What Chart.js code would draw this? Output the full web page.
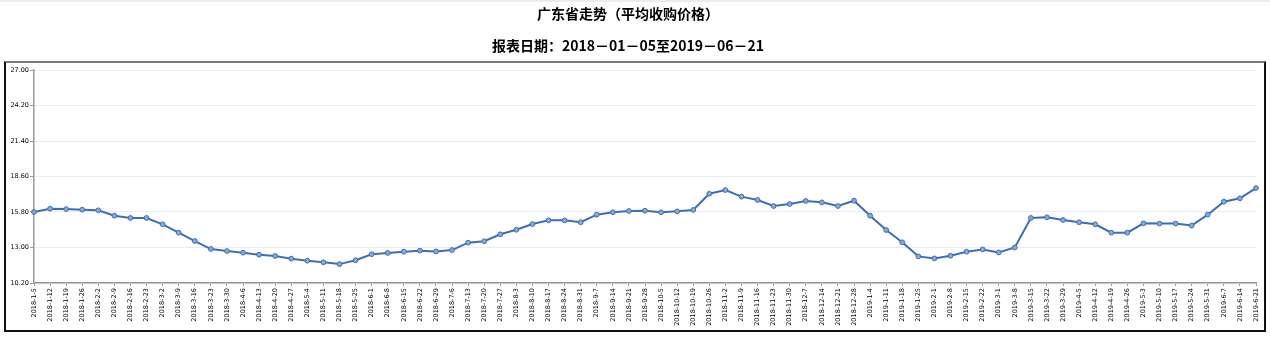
<!DOCTYPE html>
<html>
<head>
<meta charset="utf-8">
<script src="https://cdn.jsdelivr.net/npm/chart.js@4/dist/chart.umd.min.js"></script>
<style>
  html, body { margin: 0; padding: 0; background: #fff; }
  #wrap { position: relative; width: 1270px; height: 337px; overflow: hidden; }
  #topstrip { position: absolute; left: 0; top: 0; width: 1270px; height: 2px; background: #ececec; }
  #frame { position: absolute; left: 4px; top: 61px; width: 1258px; height: 267px;
           border: 2px solid #111; border-top: 2px solid #7a7a7a; }
  canvas { position: absolute; left: 0; top: 0; }
</style>
</head>
<body>
<div id="wrap">
  <div id="topstrip"></div>
  <div id="frame"></div>
  <canvas id="c" width="1270" height="337"></canvas>
</div>
<script>
// Weekly report dates
const weeks = [
  '2018-1-5','2018-1-12','2018-1-19','2018-1-26','2018-2-2','2018-2-9','2018-2-16','2018-2-23',
  '2018-3-2','2018-3-9','2018-3-16','2018-3-23','2018-3-30','2018-4-6','2018-4-13','2018-4-20',
  '2018-4-27','2018-5-4','2018-5-11','2018-5-18','2018-5-25','2018-6-1','2018-6-8','2018-6-15',
  '2018-6-22','2018-6-29','2018-7-6','2018-7-13','2018-7-20','2018-7-27','2018-8-3','2018-8-10',
  '2018-8-17','2018-8-24','2018-8-31','2018-9-7','2018-9-14','2018-9-21','2018-9-28','2018-10-5',
  '2018-10-12','2018-10-19','2018-10-26','2018-11-2','2018-11-9','2018-11-16','2018-11-23','2018-11-30',
  '2018-12-7','2018-12-14','2018-12-21','2018-12-28','2019-1-4','2019-1-11','2019-1-18','2019-1-25',
  '2019-2-1','2019-2-8','2019-2-15','2019-2-22','2019-3-1','2019-3-8','2019-3-15','2019-3-22',
  '2019-3-29','2019-4-5','2019-4-12','2019-4-19','2019-4-26','2019-5-3','2019-5-10','2019-5-17',
  '2019-5-24','2019-5-31','2019-6-7','2019-6-14','2019-6-21'
];

// Average purchase price, Guangdong
const avgPrice = [
  15.80, 16.06, 16.03, 15.98, 15.93, 15.51, 15.33, 15.33,
  14.83, 14.17, 13.51, 12.88, 12.72, 12.59, 12.43, 12.33,
  12.12, 11.96, 11.83, 11.69, 11.99, 12.47, 12.57, 12.67,
  12.75, 12.69, 12.80, 13.38, 13.49, 14.04, 14.40, 14.85,
  15.14, 15.14, 14.99, 15.59, 15.78, 15.88, 15.90, 15.78,
  15.85, 15.96, 17.24, 17.53, 17.01, 16.75, 16.27, 16.43,
  16.67, 16.56, 16.27, 16.69, 15.51, 14.38, 13.41, 12.30,
  12.14, 12.35, 12.67, 12.85, 12.61, 13.00, 15.33, 15.38,
  15.17, 14.99, 14.83, 14.17, 14.17, 14.91, 14.89, 14.89,
  14.73, 15.59, 16.61, 16.88, 17.69
];

const yMin = 10.2;
const yMax = 27.0;
const yStep = 2.8;

const titleText = '广东省走势（平均收购价格）';
const subtitleText = '报表日期：2018－01－05至2019－06－21';

const lineColor = '#3b6fb3';
const pointFill = '#86aad8';
const gridColor = '#e7edf4';
const axisColor = '#9a9a9a';

new Chart(document.getElementById('c'), {
  type: 'line',
  data: {
    labels: weeks,
    datasets: [{
      data: avgPrice,
      borderColor: lineColor,
      borderWidth: 2,
      backgroundColor: pointFill,
      pointBackgroundColor: pointFill,
      pointBorderColor: lineColor,
      pointBorderWidth: 1,
      pointRadius: 2.4,
      tension: 0,
      fill: false
    }]
  },
  options: {
    responsive: false,
    animation: false,
    devicePixelRatio: 1,
    layout: { padding: { left: 0, right: 14, top: 0, bottom: 0 } },
    plugins: {
      legend: { display: false },
      tooltip: { enabled: false },
      title: {
        display: true,
        text: titleText,
        color: '#000',
        font: { family: '"Noto Sans CJK SC", sans-serif', size: 14, weight: 'bold', lineHeight: 1.2 },
        padding: { top: 5.6, bottom: 14.4 }
      },
      subtitle: {
        display: true,
        text: subtitleText,
        color: '#000',
        font: { family: '"Noto Sans CJK SC", sans-serif', size: 14, weight: 'bold', lineHeight: 1.2 },
        padding: { top: 0, bottom: 16.4 }
      }
    },
    scales: {
      x: {
        offset: false,
        afterFit: s => { s.height = 54; },
        border: { display: true, color: axisColor, width: 1.5 },
        grid: { display: true, drawOnChartArea: false, drawTicks: true, tickLength: 3, tickColor: axisColor },
        ticks: {
          autoSkip: false,
          maxRotation: 90,
          minRotation: 90,
          padding: 2,
          color: '#000',
          font: { family: '"DejaVu Sans", sans-serif', size: 6.5 }
        }
      },
      y: {
        min: yMin,
        max: yMax,
        afterFit: s => { s.width = 34; },
        afterBuildTicks: s => {
          const t = [];
          for (let v = yMin; v <= yMax + 1e-6; v += yStep) t.push({ value: Math.round(v * 100) / 100 });
          s.ticks = t;
        },
        border: { display: true, color: axisColor, width: 1.5 },
        grid: { color: gridColor, lineWidth: 1, drawTicks: true, tickLength: 4, tickColor: axisColor },
        ticks: {
          padding: 1,
          color: '#000',
          font: { family: '"DejaVu Sans", sans-serif', size: 6.5 },
          callback: v => Number(v).toFixed(2)
        }
      }
    }
  }
});
</script>
</body>
</html>
